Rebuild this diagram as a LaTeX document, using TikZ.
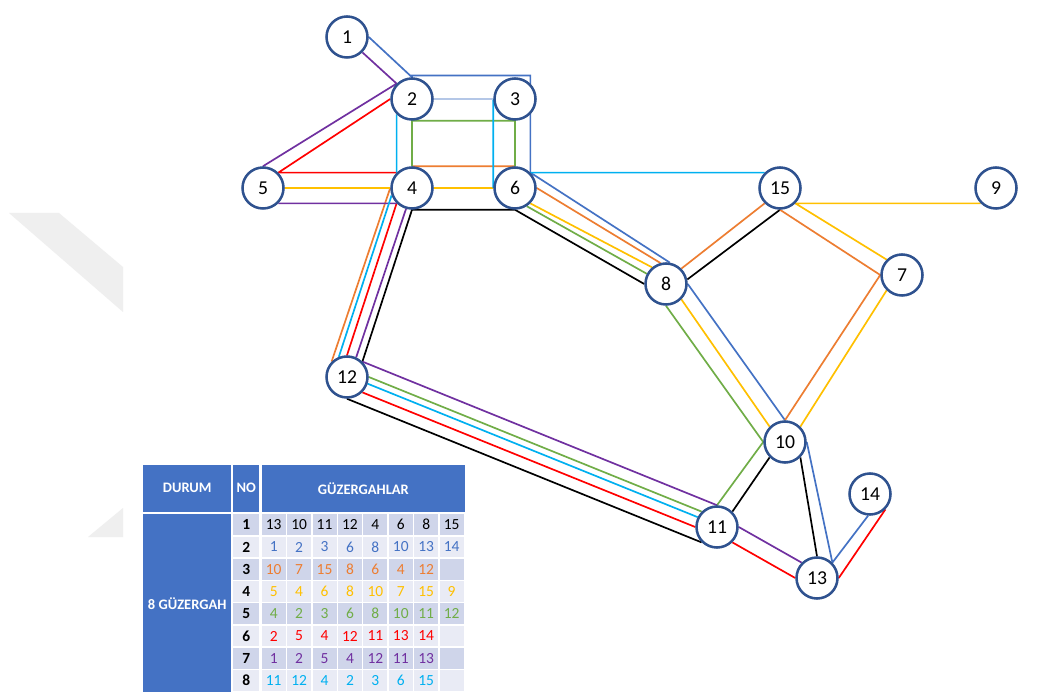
\documentclass[tikz,border=0pt]{standalone}
\usepackage{fontspec}
\setmainfont{Carlito}
\usepackage{tikz}
\usetikzlibrary{backgrounds}

\definecolor{rtblue}{HTML}{4472C4}
\definecolor{rtorange}{HTML}{ED7D31}
\definecolor{rtyellow}{HTML}{FFC000}
\definecolor{rtgreen}{HTML}{70AD47}
\definecolor{rtred}{HTML}{FF0000}
\definecolor{rtpurple}{HTML}{7030A0}
\definecolor{rtcyan}{HTML}{00B0F0}
\definecolor{rtpale}{HTML}{B4C7E7}
\definecolor{stopedge}{HTML}{2F528F}
\definecolor{rowdark}{HTML}{CFD5EA}
\definecolor{rowlight}{HTML}{E9EBF5}
\definecolor{wmgray}{HTML}{EFEFEF}

\begin{document}
\begin{tikzpicture}[x=0.025cm, y=-0.025cm, every node/.style={font=\fontsize{14}{16}\selectfont},
			durak/.style={draw=stopedge, line width=1.8pt, fill=white, circle, minimum size=1.025cm, inner sep=0pt},
			route/.style={line width=1.2pt},
			head/.style={fill=rtblue, text=white, inner sep=0pt, font=\fontsize{10.3}{12}\selectfont\bfseries},
			num/.style={inner sep=0pt, font=\fontsize{11}{13}\selectfont}]
	\node[durak] (d1) at (347,37) {1};
	\node[durak] (d2) at (412,99) {2};
	\node[durak] (d3) at (515,99) {3};
	\node[durak] (d4) at (412,188) {4};
	\node[durak] (d5) at (263,188) {5};
	\node[durak] (d6) at (515,188) {6};
	\node[durak] (d15) at (780,188) {15};
	\node[durak] (d9) at (996,188) {9};
	\node[durak] (d7) at (902,275) {7};
	\node[durak] (d8) at (666,284) {8};
	\node[durak] (d12) at (347,377) {12};
	\node[durak] (d10) at (785,442) {10};
	\node[durak] (d14) at (870,494) {14};
	\node[durak] (d11) at (717,527) {11};
	\node[durak] (d13) at (817,578) {13};

	\begin{pgfonlayer}{background}
		\fill[white] (0,0) rectangle (1047,695);
		\fill[wmgray] (9,213) -- (59,213) -- (123,267) -- (123,312) -- cycle;
		\fill[wmgray] (88,537) -- (123,508) -- (123,537) -- cycle;
		\draw[route, black] (d13.north) -- (d10.south east) (d10.south west) -- (d11.north east) (d11.south west) -- (d12.south) (d12.north east) -- (d4.south) -- (d6.south) -- (d8.west) (d8.12) -- (d15.south);
		\draw[route, rtblue] (d1.east) -- (d2.north) -- ([yshift=1.2pt]d2.north) -| (d6.north east) -- (d8.80) (d8.east) -- (d10.north) (d10.east) -- (d13.north east) -- (d14.265);
		\draw[route, rtorange] (d10.north) -- (d7.west) -- (d15.south) (d15.south west) -- (d8.north east) (d8.105) -- (d6.east) (d6.north) -- (d4.north) (d4.west) -- (d12.north west);
		\draw[route, rtyellow] (d5.east) -- (d4.west) (d4.east) -- (d6.west) (d6.south east) -- (d8.130) (d8.south east) -- (d10.north west) (d10.north east) -- (d7.south west) (d7.north west) -- (d15.south east) -- (d9.south west);
		\draw[route, rtgreen] (d4.north) -- (d2.south) -- (d3.south) -- (d6.north) (d6.303) -- (d8.152) (d8.south) -- (d10.west) -- (d11.north) (d11.north west) -- (d12.east);
		\draw[route, rtred] (d2.west) -- (d5.north east) -- (d4.north west) (d4.south west) -- (d12.north) (d12.south east) -- (d11.west) (d11.south east) -- (d13.west) (d13.east) -- (d14.south east);
		\draw[route, rtpurple] (d1.south east) -- (d2.north west) -- (d5.north) (d5.south east) -- (d4.south west) (d4.254) -- (d12.65) (d12.north east) -- (d11.north) (d11.east) -- (d13.north west);
		\draw[route, rtcyan] (d11.153) -- (d12.342) (d12.112) -- (d4.200) (d4.north west) -- (d2.south west) (d3.west) -- (d6.west) (d6.north east) -- (d15.north west);
		\draw[route, rtpale] (d2.east) -- (d3.west);
	\end{pgfonlayer}

	\node[head, minimum width=2.19cm, minimum height=1.17cm] (durum) at (187.2,488.3) {DURUM};
	\node[head, minimum width=0.65cm, minimum height=1.17cm] (no) at (246.3,488.3) {NO};
	\node[head, minimum width=5.08cm, minimum height=1.17cm] (guz) at (363.4,488.3) {GÜZERGAHLAR};
	\node[head, minimum width=2.19cm, minimum height=4.45cm] (durum8) at (187.2,603.3) {8 GÜZERGAH};
	\foreach \r/\tc/\bg/\vals in {1/black/rowdark/{13,10,11,12,4,6,8,15}, 2/rtblue/rowlight/{1,2,3,6,8,10,13,14},
			3/rtorange/rowdark/{10,7,15,8,6,4,12}, 4/rtyellow/rowlight/{5,4,6,8,10,7,15,9},
			5/rtgreen/rowdark/{4,2,3,6,8,10,11,12}, 6/rtred/rowlight/{2,5,4,12,11,13,14},
			7/rtpurple/rowdark/{1,2,5,4,12,11,13}, 8/rtcyan/rowlight/{11,12,4,2,3,6,15}}{
		\node[num, fill=\bg, minimum width=0.65cm, minimum height=0.52cm, font=\fontsize{11}{13}\selectfont\bfseries] (no\r) at (246.3,502.5+22.25*\r) {\r};
		\foreach \c in {1,...,8}
			\fill[\bg] (236.3+25.42*\c,492.1+22.25*\r) rectangle ++(24,20.8);
		\foreach \v [count=\c] in \vals
			\node[num, text=\tc] (g\r-\c) at (248.3+25.42*\c,502.5+22.25*\r) {\v};
	}
\end{tikzpicture}
\end{document}
